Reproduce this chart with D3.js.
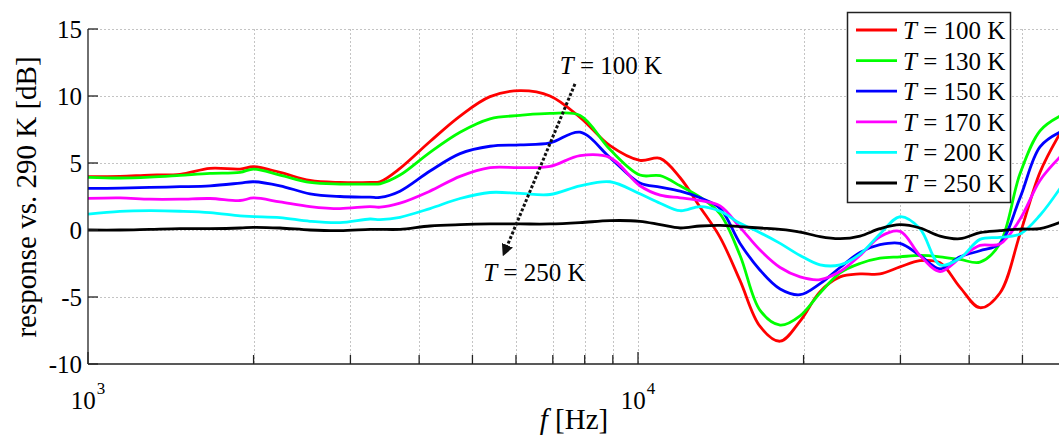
<!DOCTYPE html>
<html>
<head>
<meta charset="utf-8">
<script src="https://cdn.jsdelivr.net/npm/d3@7"></script>
<style>
  body { margin: 0; background: #fff; }
  svg { display: block; font-family: "Liberation Serif", "Times New Roman", serif; }
</style>
</head>
<body>
<script>
const width = 1059
const height = 436

// frequency grid (Hz) the curves were read at
const freqs = [1000, 1143, 1296, 1470, 1667, 1890, 2000, 2234, 2533, 2872, 3256, 3395, 3692, 4186,
  4747, 5382, 6103, 6918, 7846, 8895, 10080, 10970, 11930, 12970, 14100, 15330, 16670, 18130,
  19710, 21430, 23300, 25330, 27540, 29950, 32560, 35410, 38500, 41860, 45510, 49490, 53810, 58510]

const t100 = [3.98, 4.0, 4.1, 4.15, 4.6, 4.55, 4.72, 4.3, 3.7, 3.55, 3.55, 3.6, 4.6, 6.6,
  8.5, 9.95, 10.4, 10.0, 8.4, 6.3, 5.2, 5.35, 3.9, 1.7, -0.55, -3.78, -7.2, -8.3,
  -6.8, -4.6, -3.5, -3.28, -3.28, -2.75, -2.29, -2.45, -4.28, -5.8, -4.7, -0.3, 4.3, 7.2]
const t130 = [3.93, 3.88, 3.95, 4.08, 4.22, 4.3, 4.55, 4.1, 3.55, 3.43, 3.43, 3.45, 4.1, 5.8,
  7.3, 8.3, 8.55, 8.7, 8.55, 6.0, 4.1, 4.05, 3.3, 2.45, 1.2, -1.9, -6.0, -7.1,
  -6.4, -4.7, -3.2, -2.5, -2.1, -2.0, -1.9, -2.0, -2.2, -2.4, -1.0, 4.2, 7.4, 8.5]
const t150 = [3.1, 3.12, 3.18, 3.23, 3.3, 3.5, 3.6, 3.3, 2.7, 2.5, 2.45, 2.43, 2.9, 4.4,
  5.7, 6.25, 6.35, 6.5, 7.3, 5.4, 3.5, 3.2, 2.9, 2.4, 1.6, -1.0, -3.0, -4.4,
  -4.83, -4.0, -2.8, -1.67, -1.1, -1.0, -1.9, -2.9, -2.0, -1.55, -1.0, 2.4, 6.2, 7.3]
const t170 = [2.36, 2.4, 2.3, 2.3, 2.35, 2.2, 2.39, 2.1, 1.75, 1.6, 1.75, 1.7, 2.0, 2.9,
  4.0, 4.65, 4.65, 4.75, 5.55, 5.4, 3.3, 2.6, 2.4, 2.2, 1.8, 0.2, -1.5, -2.8,
  -3.5, -3.7, -3.1, -1.9, -0.5, -0.1, -1.9, -3.1, -2.1, -1.15, -1.05, 0.8, 3.7, 5.45]
const t200 = [1.19, 1.39, 1.44, 1.4, 1.3, 1.05, 1.0, 0.92, 0.65, 0.55, 0.82, 0.78, 0.95, 1.6,
  2.35, 2.8, 2.73, 2.65, 3.3, 3.6, 2.7, 2.0, 1.44, 1.75, 1.4, 0.5, -0.2, -1.0,
  -1.9, -2.6, -2.6, -1.8, -0.3, 0.99, 0.1, -2.6, -2.1, -0.7, -0.55, -0.3, 1.1, 3.1]
const t250 = [0.0, 0.0, 0.05, 0.1, 0.1, 0.15, 0.2, 0.15, 0.0, -0.05, 0.05, 0.05, 0.05, 0.3,
  0.4, 0.45, 0.45, 0.45, 0.55, 0.7, 0.65, 0.4, 0.15, 0.3, 0.35, 0.25, 0.15, 0.05,
  -0.15, -0.5, -0.65, -0.45, 0.1, 0.4, 0.15, -0.45, -0.65, -0.2, -0.05, 0.07, 0.1, 0.57]

const temps = [100, 130, 150, 170, 200, 250]
const seriesValues = [t100, t130, t150, t170, t200, t250]
const colors = ["#ff0000", "#00ff00", "#0000ff", "#ff00ff", "#00ffff", "#000000"]

const yTicks = [-10, -5, 0, 5, 10, 15]
const xMajor = [1000, 10000]
const xMinor = [2000, 3000, 4000, 5000, 6000, 7000, 8000, 9000, 20000, 30000, 40000, 50000]

const x = d3.scaleLog().domain([1000, 60000]).range([88, 1066])
const y = d3.scaleLinear().domain([-10, 15]).range([364, 29])

const svg = d3.select('body').append('svg')
  .attr('width', width)
  .attr('height', height)

svg.append('defs').append('clipPath').attr('id', 'plotclip')
  .append('rect')
  .attr('x', x(1000)).attr('y', y(15) - 2)
  .attr('width', x(60000) - x(1000)).attr('height', y(-10) - y(15) + 4)

// grid (dotted, matlab style)
const grid = svg.append('g').attr('stroke', '#c4c4c4').attr('stroke-width', 1).attr('stroke-dasharray', '2,2')
grid.selectAll('.hg')
  .data(yTicks.filter(d => d > -10))
  .enter().append('line')
  .attr('x1', x(1000)).attr('x2', width)
  .attr('y1', d => y(d) + 0.5).attr('y2', d => y(d) + 0.5)
grid.selectAll('.vg')
  .data(xMinor.concat([10000]))
  .enter().append('line')
  .attr('x1', d => Math.round(x(d)) + 0.5).attr('x2', d => Math.round(x(d)) + 0.5)
  .attr('y1', y(15)).attr('y2', y(-10))

// curves
const line = d3.line()
  .x((d, i) => x(freqs[i]))
  .y(d => y(d))
  .curve(d3.curveCatmullRom.alpha(0.5))

svg.append('g').attr('clip-path', 'url(#plotclip)')
  .selectAll('path')
  .data(seriesValues)
  .enter().append('path')
  .attr('d', line)
  .attr('fill', 'none')
  .attr('stroke', (d, i) => colors[i])
  .attr('stroke-width', 2.8)
  .attr('stroke-linejoin', 'round')

// axes lines
const ax = svg.append('g').attr('stroke', '#222').attr('stroke-width', 1.3)
ax.append('line').attr('x1', x(1000)).attr('x2', x(1000)).attr('y1', y(15)).attr('y2', y(-10))
ax.append('line').attr('x1', x(1000)).attr('x2', width).attr('y1', y(-10)).attr('y2', y(-10))

ax.selectAll('.yt')
  .data(yTicks)
  .enter().append('line')
  .attr('x1', x(1000)).attr('x2', x(1000) + 10)
  .attr('y1', d => y(d)).attr('y2', d => y(d))
ax.selectAll('.xt')
  .data(xMinor)
  .enter().append('line')
  .attr('x1', d => x(d)).attr('x2', d => x(d))
  .attr('y1', y(-10)).attr('y2', y(-10) - 9)
ax.selectAll('.xT')
  .data(xMajor)
  .enter().append('line')
  .attr('x1', d => x(d)).attr('x2', d => x(d))
  .attr('y1', y(-10)).attr('y2', y(-10) - 12)

// tick labels
svg.selectAll('.ylab')
  .data(yTicks)
  .enter().append('text')
  .attr('x', x(1000) - 6)
  .attr('y', d => y(d) + 9)
  .attr('text-anchor', 'end')
  .attr('font-size', 25)
  .text(d => String(d))

const xl = svg.selectAll('.xlab')
  .data(xMajor)
  .enter().append('text')
  .attr('x', d => x(d))
  .attr('y', 409)
  .attr('text-anchor', 'middle')
  .attr('font-size', 25)
xl.append('tspan').text('10')
xl.append('tspan').attr('dy', -15).attr('dx', 1).attr('font-size', 17).text(d => String(Math.round(Math.log10(d))))

// axis titles
const xt = svg.append('text')
  .attr('x', 574).attr('y', 429)
  .attr('text-anchor', 'middle')
  .attr('font-size', 29)
xt.append('tspan').attr('font-style', 'italic').text('f')
xt.append('tspan').text(' [Hz]')

svg.append('text')
  .attr('transform', 'translate(36,' + 197 + ') rotate(-90)')
  .attr('text-anchor', 'middle')
  .attr('font-size', 29)
  .text('response vs. 290 K [dB]')

// arrow annotation
svg.append('defs').append('marker')
  .attr('id', 'head')
  .attr('viewBox', '0 0 10 10')
  .attr('refX', 8).attr('refY', 5)
  .attr('markerWidth', 4).attr('markerHeight', 4)
  .attr('orient', 'auto')
  .append('path').attr('d', 'M0,0L10,5L0,10Z').attr('fill', '#111')

svg.append('line')
  .attr('x1', x(7680)).attr('y1', y(10.9))
  .attr('x2', x(5700)).attr('y2', y(-1.8))
  .attr('stroke', '#111')
  .attr('stroke-width', 3)
  .attr('stroke-dasharray', '3,2')
  .attr('marker-end', 'url(#head)')

function tLabel(g, xx, yy, t, size) {
  const tx = g.append('text').attr('x', xx).attr('y', yy).attr('font-size', size)
  tx.append('tspan').attr('font-style', 'italic').text('T')
  tx.append('tspan').text(' = ' + t + ' K')
  return tx
}
tLabel(svg, x(7210), y(11.65), 100, 25)
tLabel(svg, x(5230), y(-3.8), 250, 25)

// legend
const lg = svg.append('g')
lg.append('rect')
  .attr('x', 847.5).attr('y', 12.5)
  .attr('width', 163).attr('height', 190)
  .attr('fill', '#fff')
  .attr('stroke', '#222')
  .attr('stroke-width', 1.5)

temps.forEach((t, i) => {
  const ly = 30 + i * 30.6
  lg.append('line')
    .attr('x1', 856).attr('x2', 897)
    .attr('y1', ly).attr('y2', ly)
    .attr('stroke', colors[i])
    .attr('stroke-width', 2.8)
  tLabel(lg, 903, ly + 9, t, 25)
})
</script>
</body>
</html>
